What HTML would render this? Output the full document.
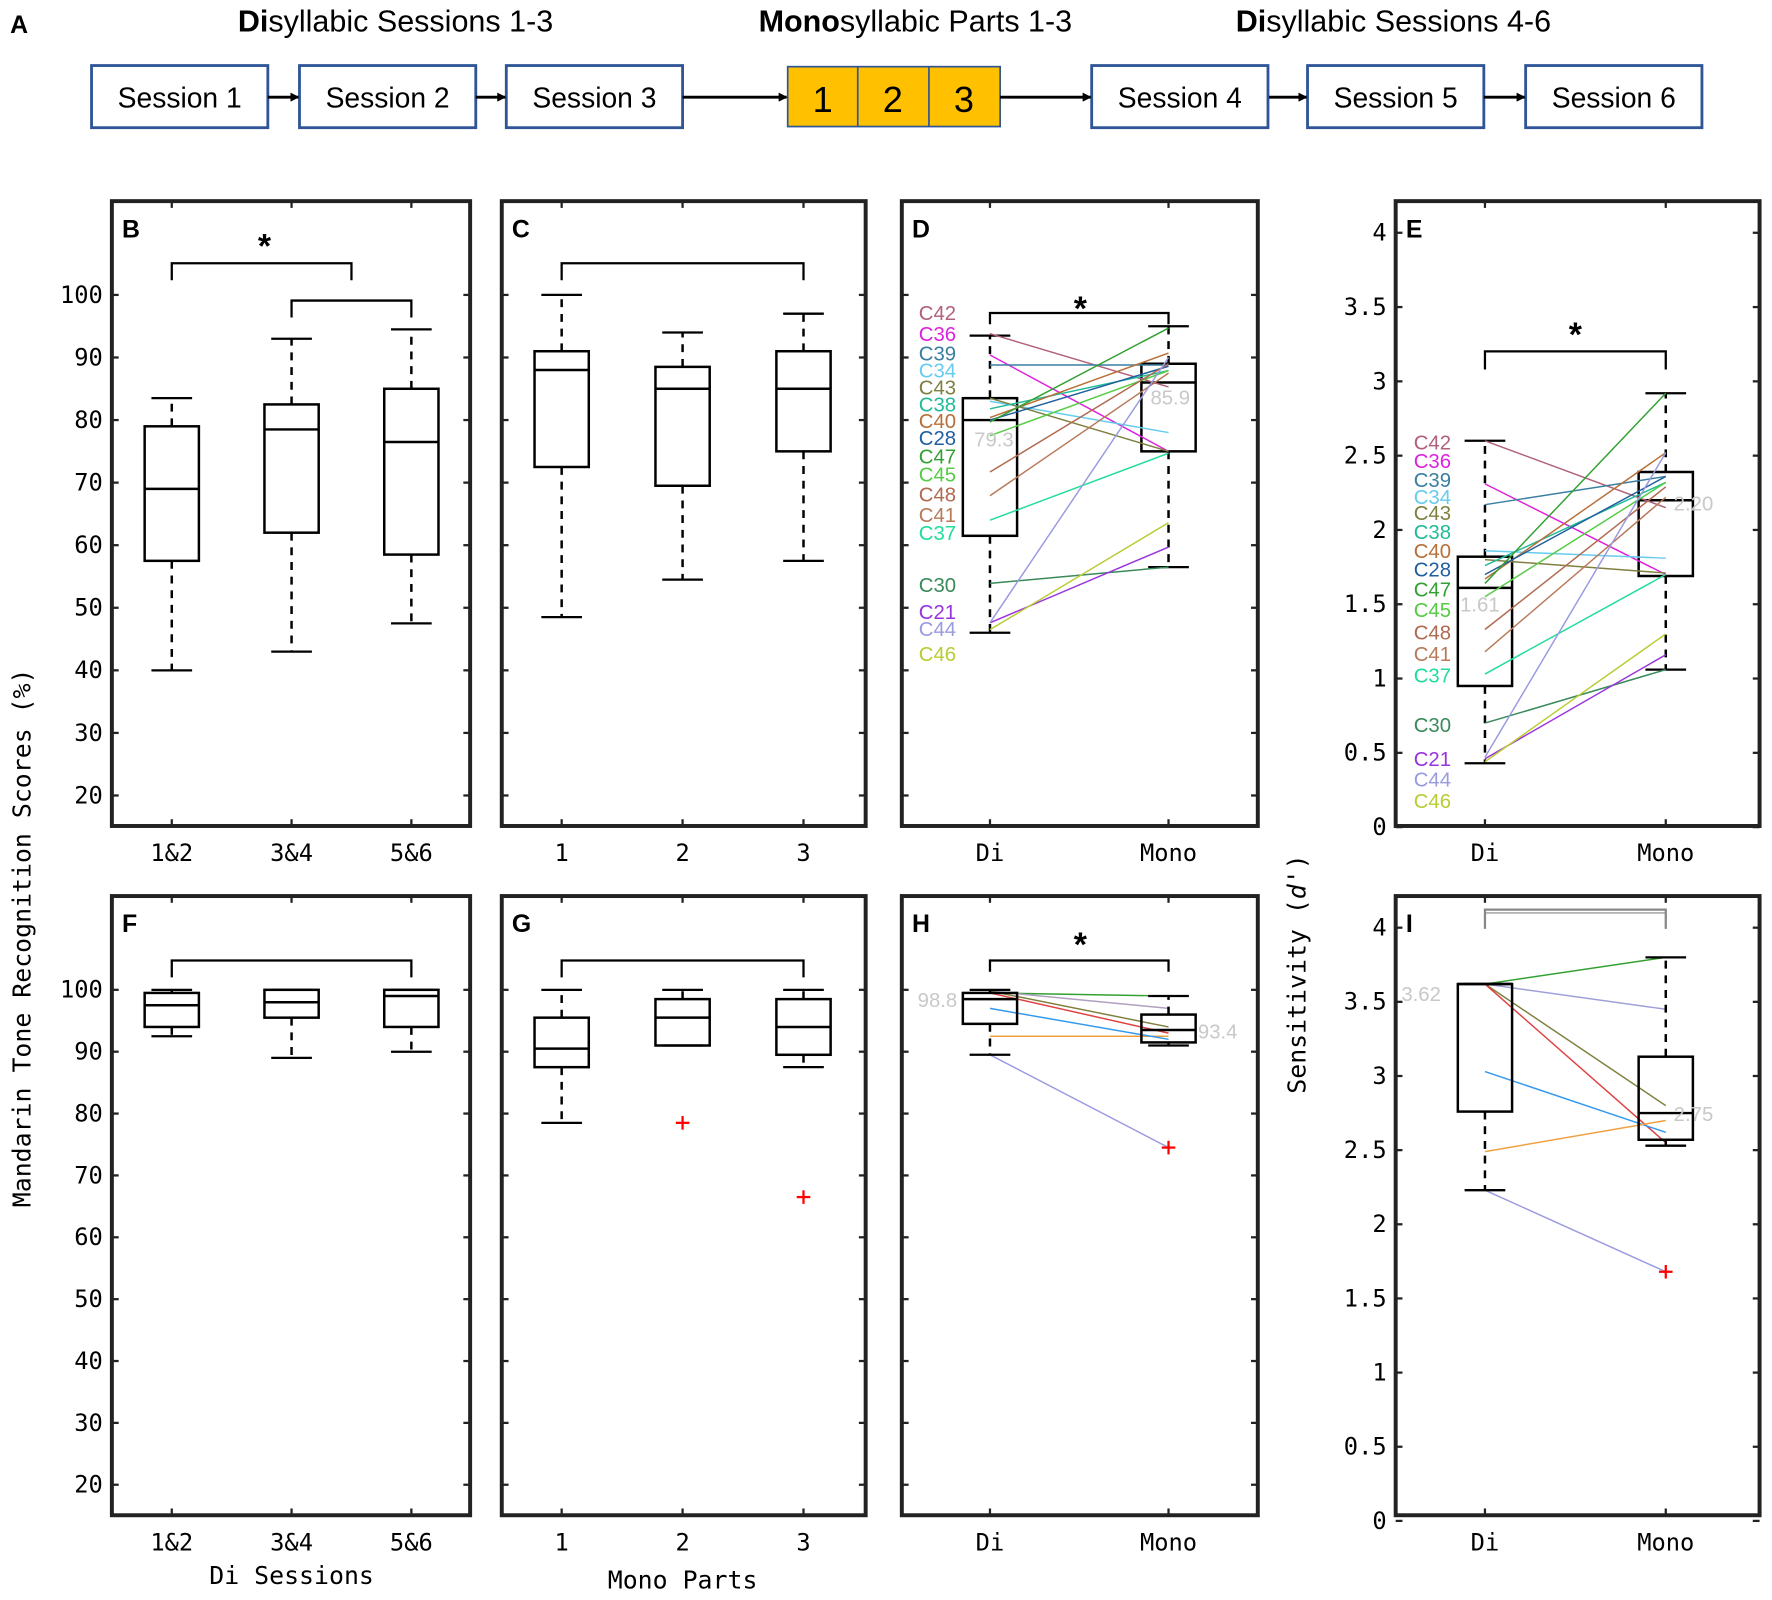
<!DOCTYPE html>
<html><head><meta charset="utf-8"><style>
html,body{margin:0;padding:0;background:#fff;}
svg{display:block;}
</style></head><body>
<svg id="s" width="1772" height="1600" viewBox="0 0 1568 1416" preserveAspectRatio="none" xmlns="http://www.w3.org/2000/svg">
<defs><marker id="ar" markerWidth="8" markerHeight="8" refX="7" refY="4" orient="auto" markerUnits="userSpaceOnUse"><path d="M0,0 L8,4 L0,8 z" fill="#000"/></marker></defs>
</svg>
<script>
const S=document.getElementById('s');const NS='http://www.w3.org/2000/svg';
function el(t,a,txt){const e=document.createElementNS(NS,t);for(const k in a)e.setAttribute(k,a[k]);if(txt!==undefined)e.textContent=txt;S.appendChild(e);return e;}
function line(x1,y1,x2,y2,st,w,d){return el('line',{x1,y1,x2,y2,stroke:st||'#000','stroke-width':w||2,'stroke-dasharray':d||'none'});}
function text(x,y,t,o){o=o||{};return el('text',Object.assign({x,y,'font-family':'"Liberation Sans",sans-serif','font-size':20,fill:'#000'},o),t);}
const MONO='"DejaVu Sans Mono","Liberation Mono",monospace';
// Panel A
text(9,29,'A',{'font-weight':'bold','font-size':22});
function title(cx,b,r){const t=el('text',{x:cx,y:28,'text-anchor':'middle','font-family':'"Liberation Sans",sans-serif','font-size':27});const s1=document.createElementNS(NS,'tspan');s1.setAttribute('font-weight','bold');s1.textContent=b;t.appendChild(s1);const s2=document.createElementNS(NS,'tspan');s2.textContent=r;t.appendChild(s2);}
title(350,'Di','syllabic Sessions 1-3');title(810,'Mono','syllabic Parts 1-3');title(1233,'Di','syllabic Sessions 4-6');
const sess=[[81,'Session 1'],[265,'Session 2'],[448,'Session 3'],[966,'Session 4'],[1157,'Session 5'],[1350,'Session 6']];
sess.forEach(([x,t])=>{el('rect',{x,y:58,width:156,height:55,fill:'#fff',stroke:'#2f5597','stroke-width':2.5});text(x+78,95,t,{'text-anchor':'middle','font-size':25});});
el('rect',{x:697,y:59,width:188,height:53,fill:'#ffc000',stroke:'#2f5597','stroke-width':1.5});
line(759,59,759,112,'#2f5597',1.5);line(822,59,822,112,'#2f5597',1.5);
[[728,'1'],[790,'2'],[853,'3']].forEach(([x,t])=>text(x,99,t,{'text-anchor':'middle','font-size':32}));
[[237,265],[421,448],[604,697],[885,966],[1123,1157],[1313,1350]].forEach(([a,b])=>{el('line',{x1:a,y1:86,x2:b-1,y2:86,stroke:'#000','stroke-width':2.5,'marker-end':'url(#ar)'});});
function panel(x1,y1,x2,y2,L){el('rect',{x:x1,y:y1,width:x2-x1,height:y2-y1,fill:'none',stroke:'#222','stroke-width':3.5});text(x1+9,y1+32,L,{'font-weight':'bold','font-size':22});}
const yB=v=>261+(100-v)*5.5375, yF=v=>876+(100-v)*5.475, yE=v=>732-v*131.5, yI=v=>1346-v*131.25;
function box(xc,lo,q1,med,q3,hi,f,w){w=w||24;line(xc,f(q3),xc,f(hi),'#000',2.2,'7,6');line(xc,f(q1),xc,f(lo),'#000',2.2,'7,6');
 line(xc-18,f(hi),xc+18,f(hi),'#000',2);line(xc-18,f(lo),xc+18,f(lo),'#000',2);
 el('rect',{x:xc-w,y:f(q3),width:2*w,height:f(q1)-f(q3),fill:'none',stroke:'#000','stroke-width':2.2});line(xc-w,f(med),xc+w,f(med),'#000',2.2);}
function bracket(a,b,y,drop,col){el('path',{d:`M${a},${y+drop} L${a},${y} L${b},${y} L${b},${y+drop}`,fill:'none',stroke:col||'#000','stroke-width':2});}
function star(x,y){text(x,y,'*',{'text-anchor':'middle','font-size':30,'font-weight':'bold'});}
function outlier(x,y){line(x-6,y,x+6,y,'#f00',2);line(x,y-6,x,y+6,'#f00',2);}
function ticksX(xs,labs,y1,y2,ly){xs.forEach((x,i)=>{line(x,y2,x,y2-6,'#222',2);line(x,y1,x,y1+6,'#222',2);text(x,ly,labs[i],{'text-anchor':'middle','font-family':MONO,'font-size':21});});}
function ticksY(vals,f,x1,x2,lab,fmt){vals.forEach(v=>{const y=f(v);line(x1,y,x1+6,y,'#222',2);line(x2,y,x2-6,y,'#222',2);if(lab)text(x1-8,y+7,fmt?fmt(v):String(v),{'text-anchor':'end','font-family':MONO,'font-size':21});});}
const pctV=[20,30,40,50,60,70,80,90,100];const dV=[0,0.5,1,1.5,2,2.5,3,3.5,4];
panel(99,178,416,731,'B');ticksY(pctV,yB,99,416,true);ticksX([152,258,364],['1&2','3&4','5&6'],178,731,762);
box(152,40,57.5,69,79,83.5,yB);box(258,43,62,78.5,82.5,93,yB);box(364,47.5,58.5,76.5,85,94.5,yB);
bracket(152,311,233,15);bracket(258,364,266,15);star(234,228);
panel(444,178,766,731,'C');ticksY(pctV,yB,444,766,false);ticksX([497,604,711],['1','2','3'],178,731,762);
box(497,48.5,72.5,88,91,100,yB);box(604,54.5,69.5,85,88.5,94,yB);box(711,57.5,75,85,91,97,yB);bracket(497,711,233,15);
const subj=[['C42','#b0607a'],['C36','#dd22dd'],['C39','#3a7ea0'],['C34','#66ccee'],['C43','#7f7f3f'],['C38','#22bb99'],['C40','#b8703a'],['C28','#1f5f9f'],['C47','#33a033'],['C45','#55cc44'],['C48','#b06a50'],['C41','#b87a5a'],['C37','#22dd99'],['C30','#3a8a5a'],['C21','#9933dd'],['C44','#9a9ae0'],['C46','#bbcc33']];
const dD=[[93.8,85.3],[90.4,75],[88.8,88.8],[83,78],[83.5,75],[81.8,87.9],[80.4,90.7],[80,88.6],[79.7,94.7],[77.5,87.9],[71.7,89],[67.9,87.5],[64,74.7],[53.9,56.5],[47.6,59.7],[47.6,90],[46.5,63.6]];
const dE=[[2.6,2.15],[2.31,1.7],[2.17,2.36],[1.86,1.81],[1.8,1.71],[1.76,2.32],[1.67,2.52],[1.7,2.36],[1.64,2.92],[1.55,2.32],[1.33,2.29],[1.18,2.22],[1.03,1.7],[0.7,1.06],[0.46,1.16],[0.47,2.52],[0.44,1.3]];
const labD=[277,296,313,328,343,358,373,388,404,420,438,456,472,518,542,557,579];
const labE=[392,408,425,440,454,471,488,504,522,540,560,579,598,642,672,690,709];
panel(798,178,1113,731,'D');ticksY(pctV,yB,798,1113,false);ticksX([876,1034],['Di','Mono'],178,731,762);
box(876,46,61.5,80,83.5,93.5,yB);box(1034,56.5,75,86,89,95,yB);
subj.forEach((s,i)=>{line(876,yB(dD[i][0]),1034,yB(dD[i][1]),s[1],1.3);text(813,labD[i]+6,s[0],{fill:s[1],'font-size':18});});
text(862,395,'79.3',{fill:'#c8c8c8','font-size':18});text(1018,358,'85.9',{fill:'#c8c8c8','font-size':18});
bracket(876,1034,277,10);star(956,283);
panel(1235,178,1557,731,'E');ticksY(dV,yE,1235,1557,true,v=>String(v));ticksX([1314,1474],['Di','Mono'],178,731,762);
box(1314,0.43,0.95,1.61,1.82,2.6,yE);box(1474,1.06,1.69,2.2,2.39,2.92,yE);
subj.forEach((s,i)=>{line(1314,yE(dE[i][0]),1474,yE(dE[i][1]),s[1],1.3);text(1251,labE[i]+6,s[0],{fill:s[1],'font-size':18});});
text(1292,541,'1.61',{fill:'#c8c8c8','font-size':18});text(1481,452,'2.20',{fill:'#c8c8c8','font-size':18});
bracket(1314,1474,311,16);star(1394,306);
panel(99,793,416,1341,'F');ticksY(pctV,yF,99,416,true);ticksX([152,258,364],['1&2','3&4','5&6'],793,1341,1372);
box(152,92.5,94,97.5,99.5,100,yF);box(258,89,95.5,98,100,100,yF);box(364,90,94,99,100,100,yF);bracket(152,364,850,15);
text(258,1402,'Di Sessions',{'text-anchor':'middle','font-family':MONO,'font-size':22});
panel(444,793,766,1341,'G');ticksY(pctV,yF,444,766,false);ticksX([497,604,711],['1','2','3'],793,1341,1372);
box(497,78.5,87.5,90.5,95.5,100,yF);box(604,91,91,95.5,98.5,100,yF);box(711,87.5,89.5,94,98.5,100,yF);
outlier(604,yF(78.5));outlier(711,yF(66.5));bracket(497,711,850,15);
text(604,1406,'Mono Parts',{'text-anchor':'middle','font-family':MONO,'font-size':22});
panel(798,793,1113,1341,'H');ticksY(pctV,yF,798,1113,false);ticksX([876,1034],['Di','Mono'],793,1341,1372);
const hL=[[89.5,74.5,'#9a9ae0'],[99.5,99,'#33a033'],[99.5,93,'#e04040'],[92.5,92.5,'#f0a040'],[97,92,'#3399ee'],[99.8,97,'#b0a0c0'],[99.8,94,'#7f7f3f']];
hL.forEach(l=>line(876,yF(l[0]),1034,yF(l[1]),l[2],1.3));
box(876,89.5,94.5,98.5,99.5,100,yF);box(1034,91,91.5,93.5,96,99,yF);outlier(1034,yF(74.5));
text(812,891,'98.8',{fill:'#c8c8c8','font-size':18});text(1060,919,'93.4',{fill:'#c8c8c8','font-size':18});
bracket(876,1034,850,10);star(956,846);
panel(1235,793,1557,1341,'I');ticksY(dV,yI,1235,1557,true,v=>String(v));ticksX([1314,1474],['Di','Mono'],793,1341,1372);
const iL=[[3.62,3.8,'#33a033'],[3.62,3.45,'#a0a0d8'],[3.62,2.8,'#7f7f3f'],[3.62,2.55,'#e04040'],[3.03,2.62,'#3399ee'],[2.49,2.7,'#f0a040'],[2.23,1.68,'#9a9ae0']];
iL.forEach(l=>line(1314,yI(l[0]),1474,yI(l[1]),l[2],1.3));
box(1314,2.23,2.76,3.62,3.62,3.62,yI);box(1474,2.53,2.57,2.75,3.13,3.8,yI);outlier(1474,yI(1.68));
text(1240,886,'3.62',{fill:'#c8c8c8','font-size':18});text(1481,992,'2.75',{fill:'#c8c8c8','font-size':18});
bracket(1314,1474,805,17,'#888');line(1314,808,1474,808,'#888',1);
text(0,0,'Mandarin Tone Recognition Scores (%)',{transform:'translate(27,830) rotate(-90)','text-anchor':'middle','font-family':MONO,'font-size':22});
const sl=el('text',{transform:'translate(1155,862) rotate(-90)','text-anchor':'middle','font-family':MONO,'font-size':22});
sl.appendChild(document.createTextNode('Sensitivity ('));const it=document.createElementNS(NS,'tspan');it.setAttribute('font-style','italic');it.textContent="d'";sl.appendChild(it);sl.appendChild(document.createTextNode(')'));
</script>
</body></html>
